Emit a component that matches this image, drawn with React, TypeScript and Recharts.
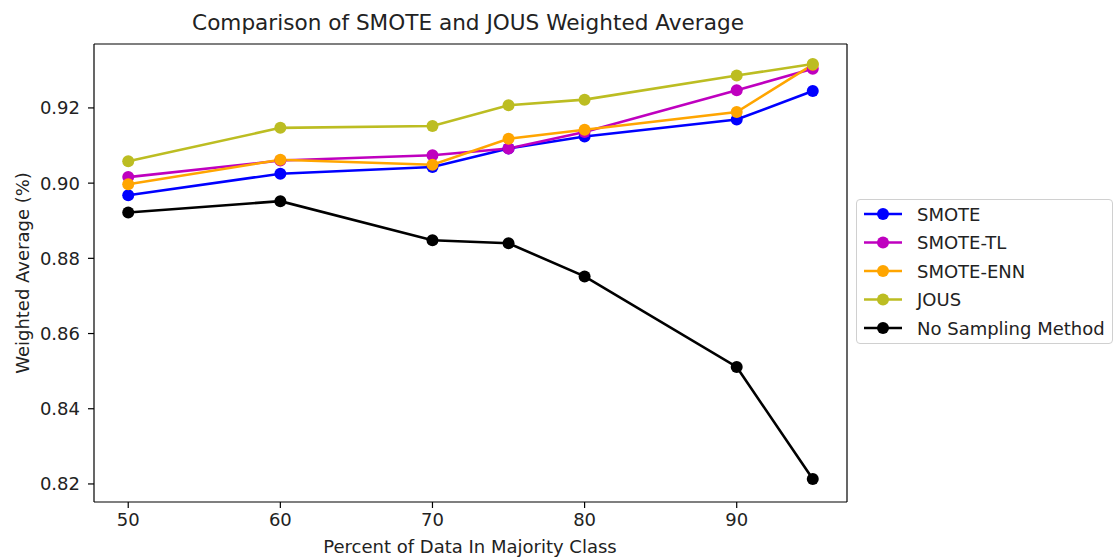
import React from 'react';
import { LineChart, Line, XAxis, YAxis, Legend, Label } from 'recharts';

const percents = [50, 60, 70, 75, 80, 90, 95];
const smote = [0.8968, 0.9025, 0.9043, 0.9092, 0.9124, 0.9169, 0.9245];
const smoteTl = [0.9016, 0.906, 0.9074, 0.9092, 0.9136, 0.9247, 0.9304];
const smoteEnn = [0.8997, 0.9062, 0.9049, 0.9118, 0.9142, 0.9189, 0.9315];
const jous = [0.9058, 0.9147, 0.9152, 0.9207, 0.9222, 0.9286, 0.9317];
const noSampling = [0.8922, 0.8952, 0.8848, 0.884, 0.8752, 0.8511, 0.8213];

const xTicks = [50, 60, 70, 80, 90];
const yTicks = [0.82, 0.84, 0.86, 0.88, 0.9, 0.92];

const series = [
    { key: 'smote', name: 'SMOTE', color: '#0000ff', values: smote },
    { key: 'smoteTl', name: 'SMOTE-TL', color: '#bf00bf', values: smoteTl },
    { key: 'smoteEnn', name: 'SMOTE-ENN', color: '#ffa500', values: smoteEnn },
    { key: 'jous', name: 'JOUS', color: '#bcbd22', values: jous },
    { key: 'none', name: 'No Sampling Method', color: '#000000', values: noSampling },
];

const data = percents.map((p, i) => {
    const row: Record<string, number> = { pct: p };
    series.forEach((s) => {
        row[s.key] = s.values[i];
    });
    return row;
});

const font = 'DejaVu Sans';
const textColor = '#222';

const LegendBox = () => (
    <div
        style={{
            width: 257,
            height: 145,
            border: '1px solid #d0d0d0',
            borderRadius: 4,
            background: '#fff',
            boxSizing: 'border-box',
            fontFamily: font,
        }}
    >
        <svg width={257} height={145}>
            {series.map((s, i) => {
                const y = 14 + i * 28.5;
                return (
                    <g key={s.key}>
                        <line x1={7} x2={45} y1={y} y2={y} stroke={s.color} strokeWidth={2.6} />
                        <circle cx={26} cy={y} r={6} fill={s.color} />
                        <text x={60} y={y} dominantBaseline="central" fontSize={18} fill={textColor}>
                            {s.name}
                        </text>
                    </g>
                );
            })}
        </svg>
    </div>
);

export default function App() {
    return (
        <div style={{ position: 'absolute', left: 0, top: 0, width: 1116, height: 558, background: '#fff' }}>
            <LineChart
                width={1116}
                height={558}
                data={data}
                margin={{ top: 43, right: 268, left: 34, bottom: 26 }}
                style={{ fontFamily: font }}
            >
                <XAxis
                    dataKey="pct"
                    type="number"
                    domain={[47.75, 97.25]}
                    ticks={xTicks}
                    allowDataOverflow
                    height={30}
                    tickSize={6}
                    tickMargin={5}
                    stroke="#000"
                    strokeWidth={1.2}
                    tick={{ fontSize: 18, fill: textColor }}
                >
                    <Label
                        content={() => (
                            <text x={470} y={546} textAnchor="middle" dominantBaseline="central" fontSize={18} fill={textColor}>
                                Percent of Data In Majority Class
                            </text>
                        )}
                    />
                    <Label
                        content={() => (
                            <text x={468} y={22} textAnchor="middle" dominantBaseline="central" fontSize={21.6} fill={textColor}>
                                Comparison of SMOTE and JOUS Weighted Average
                            </text>
                        )}
                    />
                </XAxis>
                <XAxis
                    xAxisId="top"
                    orientation="top"
                    dataKey="pct"
                    type="number"
                    domain={[47.75, 97.25]}
                    allowDataOverflow
                    height={1}
                    tick={false}
                    tickLine={false}
                    stroke="#000"
                    strokeWidth={1.2}
                />
                <YAxis
                    type="number"
                    domain={[0.8152, 0.937]}
                    ticks={yTicks}
                    allowDataOverflow
                    width={60}
                    tickSize={6}
                    tickMargin={8}
                    stroke="#000"
                    strokeWidth={1.2}
                    tick={{ fontSize: 18, fill: textColor }}
                    tickFormatter={(v: number) => v.toFixed(2)}
                >
                    <Label
                        content={() => (
                            <text
                                x={22}
                                y={273}
                                transform="rotate(-90 22 273)"
                                textAnchor="middle"
                                dominantBaseline="central"
                                fontSize={18}
                                fill={textColor}
                            >
                                Weighted Average (%)
                            </text>
                        )}
                    />
                </YAxis>
                <YAxis
                    yAxisId="right"
                    orientation="right"
                    type="number"
                    domain={[0.8152, 0.937]}
                    allowDataOverflow
                    width={1}
                    tick={false}
                    tickLine={false}
                    stroke="#000"
                    strokeWidth={1.2}
                />
                {series.map((s) => (
                    <Line
                        key={s.key}
                        type="linear"
                        dataKey={s.key}
                        name={s.name}
                        stroke={s.color}
                        strokeWidth={2.6}
                        dot={{ r: 6, fill: s.color, stroke: s.color, strokeWidth: 0 }}
                        activeDot={false}
                        isAnimationActive={false}
                    />
                ))}
                <Legend
                    layout="horizontal"
                    verticalAlign="middle"
                    align="center"
                    content={() => <LegendBox />}
                    wrapperStyle={{ left: 856, top: 199, width: 257, height: 145 }}
                />
            </LineChart>
        </div>
    );
}
